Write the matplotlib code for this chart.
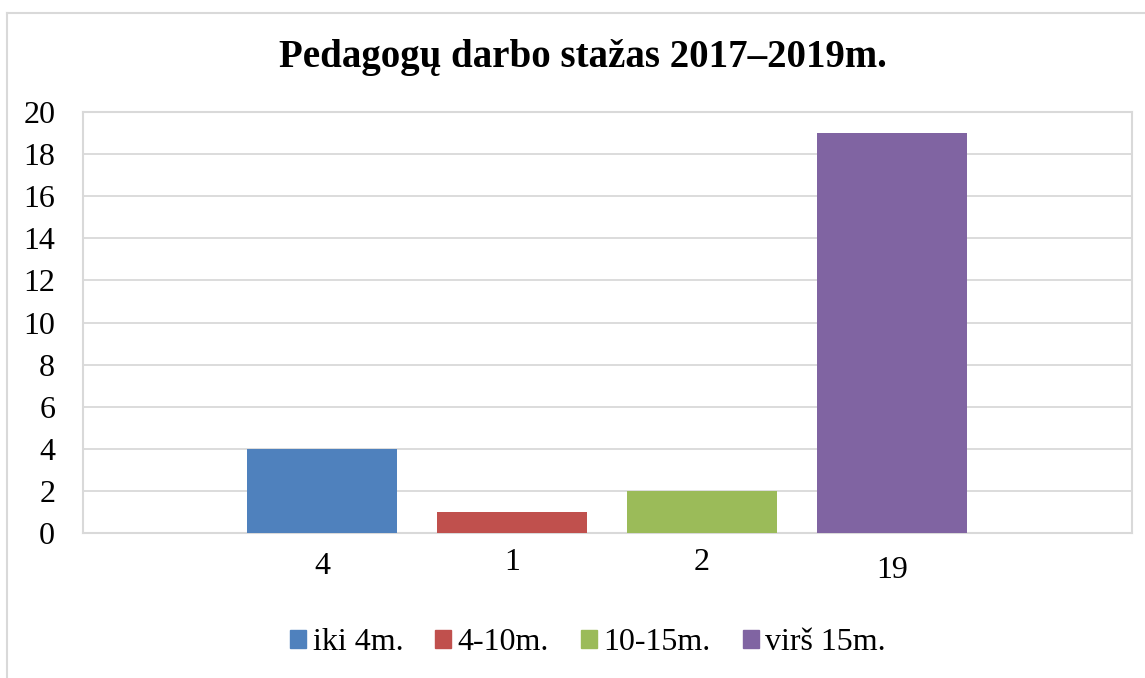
import numpy as np
import matplotlib
matplotlib.use('Agg')
import matplotlib.pyplot as plt
from matplotlib.patches import Patch
from matplotlib.lines import Line2D

# data
groups = ['iki 4m.', '4-10m.', '10-15m.', 'virš 15m.']
values = [4, 1, 2, 19]
bar_labels = ['4', '1', '2', '19']
label_drop = [34, 29, 29, 37]   # px below axis, as in the original

# colour scheme (office default)
blue = '#4F81BD'
red = '#C0504D'
green = '#9BBB59'
purple = '#8064A2'
colors = [blue, red, green, purple]
grid_col = '#D9D9D9'

plt.rcParams['font.family'] = ['Liberation Serif', 'DejaVu Serif']
fs = 23

W, H = 1145, 678
fig = plt.figure(figsize=(W / 100, H / 100), dpi=100)
ax = fig.add_axes([83 / W, 1 - 533 / H, 1049 / W, 421 / H])

x = np.arange(len(values))
for xi, v, c, g in zip(x, values, colors, groups):
    ax.bar(xi, v, width=0.79, color=c, label=g, zorder=3)

ax.set_xlim(-1.258, 4.263)
ax.set_ylim(0, 20)
ax.set_yticks(range(0, 21, 2))
ax.set_xticks([])
ax.tick_params(axis='y', length=0, pad=20, labelsize=fs)
ax.grid(axis='y', color=grid_col, lw=1.3, zorder=0)
for s in ax.spines.values():
    s.set_color(grid_col)
    s.set_linewidth(1.5)

# labels under bars
trans = ax.get_xaxis_transform()
for xi, lab, d in zip(x, bar_labels, label_drop):
    ax.annotate(lab, (xi, 0), xycoords=trans, xytext=(0, -d * 0.72),
                textcoords='offset points', ha='center', va='center', fontsize=fs)

fig.text(583 / W, 1 - 67 / H, 'Pedagogų darbo stažas 2017–2019m.',
         ha='center', va='baseline', fontsize=28, fontweight='bold')

handles = [Patch(color=c) for c in colors]
fig.legend(handles, groups, loc='center', bbox_to_anchor=(588 / W, 1 - 643 / H),
           ncol=4, frameon=False, fontsize=fs, handlelength=0.5, handleheight=0.5,
           handletextpad=0.2, columnspacing=1.0, borderaxespad=0)

# chart area border (top and left only visible)
ytop = 1 - 12.5 / H
xl = 7 / W
fig.add_artist(Line2D([xl, 1], [ytop, ytop], color=grid_col, lw=1.5, transform=fig.transFigure))
fig.add_artist(Line2D([xl, xl], [0, ytop], color=grid_col, lw=1.5, transform=fig.transFigure))

fig.savefig('out.png', dpi=100)
